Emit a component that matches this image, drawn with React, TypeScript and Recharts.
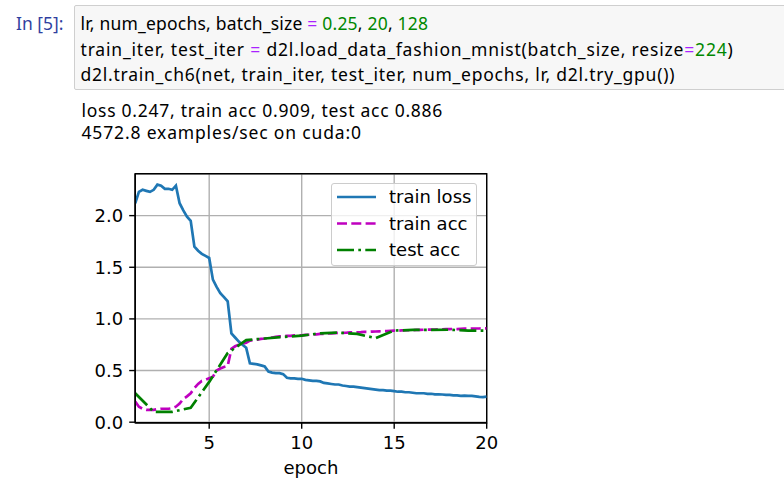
import {
  CartesianGrid,
  Label,
  Legend,
  Line,
  LineChart,
  ReferenceArea,
  XAxis,
  YAxis,
} from "recharts"

// matplotlib-ish look: tab:blue solid, magenta dashed, green dash-dot
const COLORS = {
  loss: "#1f77b4",
  trainAcc: "#bf00bf",
  testAcc: "#008000",
}
const DASHED = "10 4.3"
const DASH_DOT = "17 4.3 2.7 4.3"
const LINE_W = 2.7
const AXIS_FONT = '"DejaVu Sans", sans-serif'
const NB_FONT = '"Noto Sans", "Noto Sans CJK SC", sans-serif'

// train metrics are logged 5 times per epoch, epoch 1.0 .. 20.0
const trainEpochs = Array.from({ length: 96 }, (_, i) => 1 + i / 5)

const trainLoss = [
  2.12,
  2.23, 2.25, 2.24, 2.23, 2.25,
  2.30, 2.29, 2.26, 2.26, 2.25,
  2.29, 2.12, 2.05, 1.99, 1.95,
  1.70, 1.66, 1.63, 1.61, 1.59,
  1.38, 1.31, 1.25, 1.21, 1.17,
  0.86, 0.82, 0.78, 0.75, 0.72,
  0.57, 0.565, 0.56, 0.55, 0.54,
  0.49, 0.48, 0.475, 0.475, 0.465,
  0.43, 0.425, 0.425, 0.42, 0.42,
  0.41, 0.405, 0.40, 0.40, 0.395,
  0.38, 0.375, 0.37, 0.365, 0.365,
  0.355, 0.35, 0.345, 0.345, 0.34,
  0.335, 0.33, 0.325, 0.32, 0.315,
  0.31, 0.31, 0.305, 0.305, 0.30,
  0.295, 0.295, 0.29, 0.29, 0.285,
  0.28, 0.28, 0.28, 0.275, 0.275,
  0.27, 0.27, 0.268, 0.265, 0.265,
  0.26, 0.26, 0.255, 0.257, 0.255,
  0.255, 0.25, 0.245, 0.242, 0.247,
]

const trainAcc = [
  0.20,
  0.15, 0.13, 0.12, 0.12, 0.12,
  0.125, 0.13, 0.13, 0.13, 0.135,
  0.15, 0.18, 0.225, 0.25, 0.28,
  0.33, 0.37, 0.40, 0.41, 0.425,
  0.44, 0.50, 0.52, 0.535, 0.545,
  0.71, 0.735, 0.75, 0.76, 0.77,
  0.79, 0.795, 0.80, 0.806, 0.81,
  0.815, 0.82, 0.826, 0.83, 0.83,
  0.835, 0.836, 0.84, 0.842, 0.84,
  0.845, 0.847, 0.85, 0.851, 0.855,
  0.855, 0.86, 0.859, 0.862, 0.865,
  0.864, 0.866, 0.87, 0.869, 0.871,
  0.872, 0.875, 0.874, 0.877, 0.878,
  0.88, 0.882, 0.883, 0.885, 0.887,
  0.886, 0.889, 0.89, 0.89, 0.892,
  0.893, 0.893, 0.895, 0.896, 0.897,
  0.897, 0.899, 0.90, 0.901, 0.901,
  0.903, 0.902, 0.904, 0.905, 0.905,
  0.906, 0.907, 0.907, 0.909, 0.909,
]

// test acc evaluated once at the end of each epoch
const testEpochs = [1, 2, 3, 4, 5, 6, 7, 8, 9, 10, 11, 12, 13, 14, 15, 16, 17, 18, 19, 20]
const testAcc = [
  0.28, 0.10, 0.10, 0.14, 0.39, 0.67, 0.795, 0.81, 0.825, 0.838,
  0.86, 0.867, 0.855, 0.813, 0.887, 0.893, 0.893, 0.895, 0.887, 0.886,
]

const xTicks = [5, 10, 15, 20]
const yTicks = [0, 0.5, 1, 1.5, 2]
const legendItems = [
  { name: "train loss", color: COLORS.loss, dash: undefined },
  { name: "train acc", color: COLORS.trainAcc, dash: DASHED },
  { name: "test acc", color: COLORS.testAcc, dash: DASH_DOT },
]

const lossData = trainEpochs.map((x, i) => ({ x, y: trainLoss[i] }))
const trainAccData = trainEpochs.map((x, i) => ({ x, y: trainAcc[i] }))
const testAccData = testEpochs.map((x, i) => ({ x, y: testAcc[i] }))

function LegendBox() {
  return (
    <div
      style={{
        width: 144,
        height: 81,
        border: "1px solid #cccccc",
        borderRadius: 3,
        background: "rgba(255,255,255,0.8)",
        boxSizing: "content-box",
      }}
    >
      <svg width={144} height={81} style={{ display: "block" }}>
        {legendItems.map((item, i) => {
          const cy = 13 + i * 26.5
          return (
            <g key={item.name}>
              <line
                x1={5}
                x2={44}
                y1={cy}
                y2={cy}
                stroke={item.color}
                strokeWidth={LINE_W}
                strokeDasharray={item.dash}
              />
              <text
                x={57}
                y={cy}
                dy="0.36em"
                fontFamily={AXIS_FONT}
                fontSize={18}
                fill="#000"
              >
                {item.name}
              </text>
            </g>
          )
        })}
      </svg>
    </div>
  )
}

function TrainingChart() {
  return (
    <LineChart
      width={460}
      height={340}
      margin={{ top: 23.8, right: 33.3, left: 0, bottom: 7.3 }}
    >
      <CartesianGrid stroke="#b0b0b0" strokeWidth={1.4} />
      <XAxis
        type="number"
        dataKey="x"
        domain={[1, 20]}
        ticks={xTicks}
        allowDataOverflow
        height={60}
        tickSize={6}
        tickMargin={8}
        axisLine={{ stroke: "#000", strokeWidth: 1.4 }}
        tickLine={{ stroke: "#000", strokeWidth: 1.4 }}
        tick={{ fontSize: 18, fill: "#000", fontFamily: AXIS_FONT }}
      >
        <Label
          value="epoch"
          position="insideBottom"
          offset={9}
          style={{ fontSize: 18, fill: "#000", fontFamily: AXIS_FONT }}
        />
      </XAxis>
      <YAxis
        type="number"
        domain={[-0.005, 2.405]}
        ticks={yTicks}
        allowDataOverflow
        width={75.2}
        tickSize={6}
        tickMargin={6}
        tickFormatter={(v: number) => v.toFixed(1)}
        axisLine={{ stroke: "#000", strokeWidth: 1.4 }}
        tickLine={{ stroke: "#000", strokeWidth: 1.4 }}
        tick={{ fontSize: 18, fill: "#000", fontFamily: AXIS_FONT }}
      />
      <Line
        data={lossData}
        dataKey="y"
        name="train loss"
        type="linear"
        stroke={COLORS.loss}
        strokeWidth={LINE_W}
        dot={false}
        isAnimationActive={false}
      />
      <Line
        data={trainAccData}
        dataKey="y"
        name="train acc"
        type="linear"
        stroke={COLORS.trainAcc}
        strokeWidth={LINE_W}
        strokeDasharray={DASHED}
        dot={false}
        isAnimationActive={false}
      />
      <Line
        data={testAccData}
        dataKey="y"
        name="test acc"
        type="linear"
        stroke={COLORS.testAcc}
        strokeWidth={LINE_W}
        strokeDasharray={DASH_DOT}
        dot={false}
        isAnimationActive={false}
      />
      <ReferenceArea
        x1={1}
        x2={20}
        y1={-0.005}
        y2={2.405}
        fill="none"
        stroke="#000"
        strokeWidth={1.4}
        fillOpacity={0}
      />
      <Legend
        layout="horizontal"
        verticalAlign="middle"
        align="center"
        content={() => <LegendBox />}
        wrapperStyle={{ position: "absolute", left: 270.7, top: 33.3, width: 146, height: 83 }}
      />
    </LineChart>
  )
}

export default function App() {
  const eq = { color: "#aa22ff" }
  const num = { color: "#008800" }
  return (
    <div
      style={{
        position: "absolute",
        left: 0,
        top: 0,
        width: 784,
        height: 491,
        background: "#fff",
        overflow: "hidden",
        fontFamily: NB_FONT,
      }}
    >
      <div
        style={{
          position: "absolute",
          left: 16,
          top: 11.3,
          fontSize: 17.5,
          lineHeight: "25.2px",
          color: "#303f9f",
          whiteSpace: "pre",
        }}
      >
        In [5]:
      </div>
      <div
        style={{
          position: "absolute",
          left: 74,
          top: 5,
          width: 720,
          height: 83,
          background: "#f7f7f7",
          border: "1px solid #cfcfcf",
          borderRadius: 2,
        }}
      />
      <div
        style={{
          position: "absolute",
          left: 80.5,
          top: 11.3,
          fontSize: 17.5,
          lineHeight: "25.2px",
          color: "#000",
          whiteSpace: "pre",
        }}
      >
        <div style={{ letterSpacing: 0.2 }}>
          lr, num_epochs, batch_size <span style={eq}>=</span> <span style={num}>0.25</span>,{" "}
          <span style={num}>20</span>, <span style={num}>128</span>
        </div>
        <div style={{ letterSpacing: 0.82 }}>
          train_iter, test_iter <span style={eq}>=</span> d2l.load_data_fashion_mnist(batch_size, resize
          <span style={eq}>=</span>
          <span style={num}>224</span>)
        </div>
        <div style={{ letterSpacing: 0.75 }}>
          d2l.train_ch6(net, train_iter, test_iter, num_epochs, lr, d2l.try_gpu())
        </div>
      </div>
      <div
        style={{
          position: "absolute",
          left: 81.5,
          top: 98.5,
          fontSize: 17.5,
          lineHeight: "22.5px",
          color: "#000",
          whiteSpace: "pre",
        }}
      >
        <div style={{ letterSpacing: 0.74 }}>loss 0.247, train acc 0.909, test acc 0.886</div>
        <div style={{ letterSpacing: 0.84 }}>4572.8 examples/sec on cuda:0</div>
      </div>
      <div style={{ position: "absolute", left: 60, top: 150, width: 460, height: 340 }}>
        <TrainingChart />
      </div>
    </div>
  )
}
